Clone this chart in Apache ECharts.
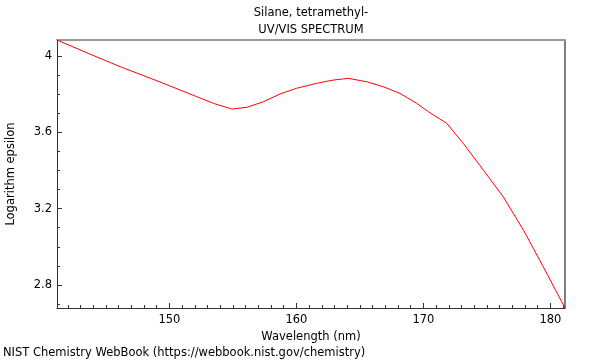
<!DOCTYPE html>
<html>
<head>
<meta charset="utf-8">
<script src="https://cdn.jsdelivr.net/npm/echarts@6/dist/echarts.min.js"></script>
<style>html,body{margin:0;padding:0;background:#fff}#c{width:600px;height:360px}</style>
</head>
<body>
<div id="c"></div>
<script>
var wavelength = [141.15, 143.6, 146.24, 148.87, 150.84, 152.15, 153.46, 154.91, 156.09, 157.39, 158.71, 160.02, 161.6, 162.91, 164.09, 165.54, 166.84, 168.16, 169.47, 170.39, 171.84, 173.14, 174.72, 176.29, 177.87, 179.44, 181.15];
var logEpsilon = [4.084, 4.014, 3.941, 3.874, 3.822, 3.787, 3.752, 3.722, 3.731, 3.760, 3.801, 3.831, 3.857, 3.874, 3.883, 3.865, 3.839, 3.804, 3.752, 3.708, 3.647, 3.542, 3.402, 3.262, 3.088, 2.895, 2.679];
var xMajorTicks = [150, 160, 170, 180];
var xMinorTicks = [142,143,144,145,146,147,148,149,151,152,153,154,155,156,157,158,159,161,162,163,164,165,166,167,168,169,171,172,173,174,175,176,177,178,179,181];
var yMajorTicks = [2.8, 3.2, 3.6, 4.0];
var yMinorTicks = [2.7,2.9,3.0,3.1,3.3,3.4,3.5,3.7,3.8,3.9,4.0];
var xRange = [141.15, 181.15];
var yRange = [2.679, 4.084];

var font = 'DejaVu Sans';
var fs = 11.5;
var chart = echarts.init(document.getElementById('c'));
var pts = wavelength.map(function (w, i) { return [w, logEpsilon[i]]; });
chart.setOption({
  animation: false,
  textStyle: { fontFamily: font },
  title: [
    { text: 'Silane, tetramethyl-\nUV/VIS SPECTRUM', left: 311, textAlign: 'center', top: 5, padding: 0,
      textStyle: { fontFamily: font, fontSize: fs, fontWeight: 'normal', color: '#000', lineHeight: 17 } },
    { text: 'NIST Chemistry WebBook (https://webbook.nist.gov/chemistry)', left: 3, top: 346, padding: 0,
      textStyle: { fontFamily: font, fontSize: fs, fontWeight: 'normal', color: '#000', lineHeight: 14 } }
  ],
  grid: { left: 57, right: 35, top: 40, bottom: 52, containLabel: false, outerBoundsMode: 'none' },
  xAxis: [
    { type: 'value', min: xRange[0], max: xRange[1], position: 'bottom',
      name: 'Wavelength (nm)', nameLocation: 'middle', nameGap: 19,
      nameTextStyle: { fontFamily: font, fontSize: fs, color: '#000' },
      axisLine: { show: true, lineStyle: { color: '#333', width: 1 } },
      axisTick: { show: true, inside: true, length: 5, customValues: xMajorTicks, lineStyle: { color: '#333' } },
      axisLabel: { customValues: xMajorTicks, fontFamily: font, fontSize: fs, color: '#000', margin: 6 },
      splitLine: { show: false } },
    { type: 'value', min: xRange[0], max: xRange[1], position: 'bottom',
      axisLine: { show: false },
      axisTick: { show: true, inside: true, length: 3, customValues: xMinorTicks, lineStyle: { color: '#333' } },
      axisLabel: { show: false }, splitLine: { show: false } },
    { type: 'value', min: xRange[0], max: xRange[1], position: 'top',
      axisLine: { show: true, lineStyle: { color: '#999', width: 2 } },
      axisTick: { show: false }, axisLabel: { show: false }, splitLine: { show: false } }
  ],
  yAxis: [
    { type: 'value', min: yRange[0], max: yRange[1], position: 'left',
      name: 'Logarithm epsilon', nameLocation: 'middle', nameGap: 40,
      nameTextStyle: { fontFamily: font, fontSize: fs, color: '#000' },
      axisLine: { show: true, lineStyle: { color: '#333', width: 1 } },
      axisTick: { show: true, inside: true, length: 5, customValues: yMajorTicks, lineStyle: { color: '#333' } },
      axisLabel: { customValues: yMajorTicks, fontFamily: font, fontSize: fs, color: '#000', margin: 5,
        formatter: function (v) { return String(Math.round(v * 10) / 10); } },
      splitLine: { show: false } },
    { type: 'value', min: yRange[0], max: yRange[1], position: 'left',
      axisLine: { show: false },
      axisTick: { show: true, inside: true, length: 3, customValues: yMinorTicks, lineStyle: { color: '#333' } },
      axisLabel: { show: false }, splitLine: { show: false } },
    { type: 'value', min: yRange[0], max: yRange[1], position: 'right',
      axisLine: { show: true, lineStyle: { color: '#555', width: 1.5 } },
      axisTick: { show: false }, axisLabel: { show: false }, splitLine: { show: false } }
  ],
  series: [{
    type: 'line', data: pts, xAxisIndex: 0, yAxisIndex: 0,
    showSymbol: false, smooth: false,
    lineStyle: { color: '#ff0000', width: 1 }
  }]
});
</script>
</body>
</html>
